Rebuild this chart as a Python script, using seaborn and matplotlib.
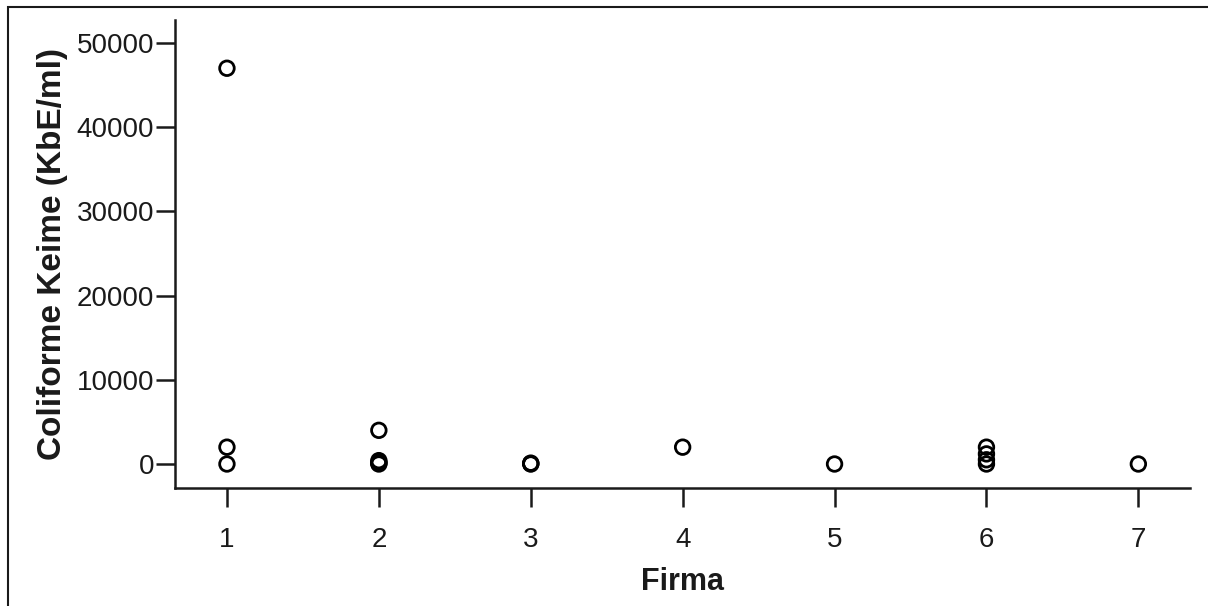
import matplotlib
matplotlib.use("Agg")
import matplotlib.pyplot as plt
import seaborn as sns
import pandas as pd
from matplotlib.patches import Rectangle

firma = [1, 1, 1, 2, 2, 2, 2, 2, 3, 3, 3, 4, 5, 6, 6, 6, 6, 7]
keime = [47000, 2000, 0, 4000, 0, 100, 200, 400, 0, 50, 100, 2000, 0, 2000, 1200, 500, 0, 0]
x_ticks = [1, 2, 3, 4, 5, 6, 7]
y_ticks = [0, 10000, 20000, 30000, 40000, 50000]
x_label = "Firma"
y_label = "Coliforme Keime (KbE/ml)"

df = pd.DataFrame({"Firma": firma, "Keime": keime})

sns.set_style("white")
plt.rcParams["font.family"] = ["Liberation Sans", "DejaVu Sans"]

fig = plt.figure(figsize=(12.08, 6.06), dpi=100)
ax = fig.add_axes([175 / 1208, 118 / 606, (1190 - 175) / 1208, (488 - 20) / 606])

sns.scatterplot(data=df, x="Firma", y="Keime", ax=ax, marker="o", s=110,
                facecolor="none", edgecolor="black", linewidth=2.0, zorder=3)

ax.set_xlim(0.658, 7.34)
ax.set_ylim(-2850, 52730)
ax.set_xticks(x_ticks)
ax.set_yticks(y_ticks)
ax.set_xticklabels([str(v) for v in x_ticks])
ax.set_yticklabels([str(v) for v in y_ticks])

for s in ["top", "right"]:
    ax.spines[s].set_visible(False)
for s in ["left", "bottom"]:
    ax.spines[s].set_color("#1a1a1a")
    ax.spines[s].set_linewidth(1.8)

ax.tick_params(axis="both", which="major", direction="out", length=14, width=1.8,
               color="#1a1a1a", labelsize=20, labelcolor="#1a1a1a", pad=1,
               left=True, bottom=True)
ax.tick_params(axis="x", pad=14)

ax.set_xlabel(x_label, fontsize=22, fontweight="bold", color="#1a1a1a", labelpad=10)
ax.set_ylabel(y_label, fontsize=24, fontweight="bold", color="#1a1a1a", labelpad=6)

fig.patches.append(Rectangle((8 / 1208, -0.1), 1.2, (606 - 7) / 606 + 0.1,
                             transform=fig.transFigure, fill=False,
                             edgecolor="#1a1a1a", linewidth=1.5, zorder=0))

fig.savefig("out.png", dpi=100)
